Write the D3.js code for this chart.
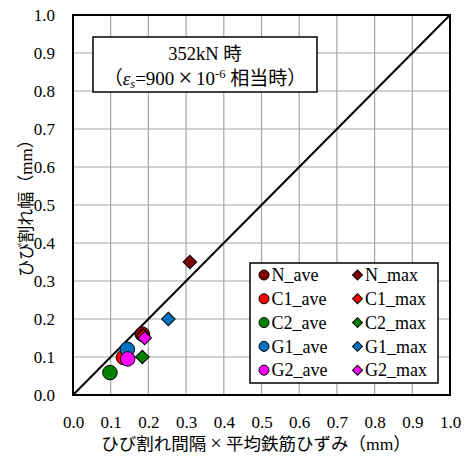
<!DOCTYPE html>
<html><head><meta charset="utf-8">
<script src="https://cdn.jsdelivr.net/npm/d3@7"></script>
<style>body{margin:0;background:#fff}svg text{font-family:"Liberation Serif","Times New Roman",Tinos,"DejaVu Serif","Noto Sans CJK JP",serif !important}</style>
</head><body><svg id="c" width="465" height="457"></svg>
<script>
const seriesNames = ["N_ave","N_max","C1_ave","C1_max","C2_ave","C2_max","G1_ave","G1_max","G2_ave","G2_max"];
const seriesColors = ["#7f0000","#7f0000","#ff0000","#ff0000","#008000","#008000","#0070c0","#0070c0","#ff00ff","#ff00ff"];
const seriesShapes = ["circle","diamond","circle","diamond","circle","diamond","circle","diamond","circle","diamond"];
const xValues = [0.184, 0.31, 0.134, 0.186, 0.098, 0.184, 0.144, 0.253, 0.145, 0.19];
const yValues = [0.16, 0.35, 0.099, 0.155, 0.059, 0.10, 0.12, 0.20, 0.095, 0.15];
const tickValues = [0,0.1,0.2,0.3,0.4,0.5,0.6,0.7,0.8,0.9,1.0];
const xTitleParts = ["ひび割れ間隔", "×", "平均鉄筋ひずみ（mm）"];
const yTitle = "ひび割れ幅（mm）";

const svg = d3.select("#c");
const L=73,R=450,T=15,B=395;
const x = d3.scaleLinear().domain([0,1]).range([L,R]);
const y = d3.scaleLinear().domain([0,1]).range([B,T]);

// grid
svg.append("g").selectAll("line").data(tickValues.slice(1,-1)).join("line")
  .attr("x1",d=>x(d)).attr("x2",d=>x(d)).attr("y1",T).attr("y2",B)
  .attr("stroke","#a6a6a6").attr("stroke-width",1.2);
svg.append("g").selectAll("line").data(tickValues.slice(1,-1)).join("line")
  .attr("y1",d=>y(d)).attr("y2",d=>y(d)).attr("x1",L).attr("x2",R)
  .attr("stroke","#a6a6a6").attr("stroke-width",1.2);

// axes (labels via d3 axes)
const xAxis = svg.append("g").attr("transform",`translate(0,${B})`)
  .call(d3.axisBottom(x).tickValues(tickValues).tickFormat(d3.format(".1f")).tickSize(0).tickPadding(21));
const yAxis = svg.append("g").attr("transform",`translate(${L},0)`)
  .call(d3.axisLeft(y).tickValues(tickValues).tickFormat(d3.format(".1f")).tickSize(0).tickPadding(18));
[xAxis,yAxis].forEach(a=>{a.select(".domain").remove(); a.attr("font-family",null).attr("font-size",null);
  a.selectAll("text").attr("font-size",17).attr("fill","#000");});

// diagonal
svg.append("line").attr("x1",x(0)).attr("y1",y(0)).attr("x2",x(1)).attr("y2",y(1))
  .attr("stroke","#000").attr("stroke-width",2);

// plot border
svg.append("rect").attr("x",L).attr("y",T).attr("width",R-L).attr("height",B-T)
  .attr("fill","none").attr("stroke","#000").attr("stroke-width",2);

// title box
const tb = svg.append("g");
tb.append("rect").attr("x",93).attr("y",37).attr("width",224).attr("height",55)
  .attr("fill","#fff").attr("stroke","#000").attr("stroke-width",1.5);
tb.append("text").attr("x",205).attr("y",60).attr("text-anchor","middle").attr("font-size",18.5)
  .text("352kN 時");
const t2 = tb.append("text").attr("x",205).attr("y",85).attr("text-anchor","middle").attr("font-size",19);
t2.append("tspan").text("（");
t2.append("tspan").attr("font-style","italic").text("ε");
t2.append("tspan").attr("font-style","italic").attr("font-size",12.5).attr("dy",3).text("s");
t2.append("tspan").attr("dy",-3).text("=900\u2009");
t2.append("tspan").attr("font-size",25).attr("dy",1).text("×");
t2.append("tspan").attr("dy",-1).text("\u200910");
t2.append("tspan").attr("font-size",12.5).attr("dy",-7).text("-6");
t2.append("tspan").attr("dy",7).text(" 相当時）");

// points
const pts = seriesNames.map((n,i)=>({n,c:seriesColors[i],s:seriesShapes[i],x:xValues[i],y:yValues[i]}));
svg.append("g").selectAll("path").data(pts).join("path")
  .attr("d",d=> d.s==="circle" ? d3.symbol(d3.symbolCircle, Math.PI*7.3*7.3)() : d3.symbol(d3.symbolSquare, 92)())
  .attr("transform",d=>`translate(${x(d.x)},${y(d.y)})`+(d.s==="circle"?"":" rotate(45)"))
  .attr("fill",d=>d.c).attr("stroke","#000").attr("stroke-width",1);

// legend
const lg = svg.append("g");
lg.append("rect").attr("x",250).attr("y",263).attr("width",188).attr("height",120)
  .attr("fill","#fff").attr("stroke","#000").attr("stroke-width",1.5);
pts.forEach((d,i)=>{
  const col=i%2,row=Math.floor(i/2);
  const cx = col===0?264:357.5, cy = 275+row*23.8;
  lg.append("path")
    .attr("d", d.s==="circle" ? d3.symbol(d3.symbolCircle, Math.PI*5*5)() : d3.symbol(d3.symbolSquare, 50)())
    .attr("transform",`translate(${cx},${cy})`+(d.s==="circle"?"":" rotate(45)"))
    .attr("fill",d.c).attr("stroke","#000").attr("stroke-width",1);
  lg.append("text").attr("x",cx+7.5).attr("y",cy).attr("dy","0.34em").attr("font-size",18).text(d.n);
});

// axis titles
const xt = svg.append("text").attr("x",256).attr("y",450).attr("text-anchor","middle").attr("font-size",17.5);
xt.append("tspan").text(xTitleParts[0]);
xt.append("tspan").attr("font-size",20.5).text("\u2009" + xTitleParts[1] + "\u2009");
xt.append("tspan").text(xTitleParts[2]);
svg.append("text").attr("transform","translate(26,204) rotate(-90)").attr("text-anchor","middle")
  .attr("dy","0.35em").attr("font-size",17).text(yTitle);
</script></body></html>
